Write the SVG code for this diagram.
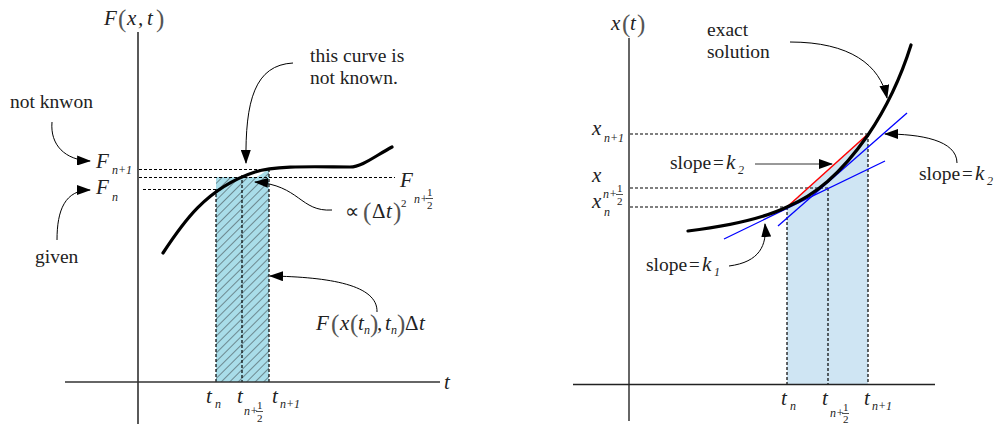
<svg xmlns="http://www.w3.org/2000/svg" width="1000" height="424" viewBox="0 0 1000 424">
<style>
svg g text{font-family:'Liberation Serif','Times New Roman',serif !important;fill:#222}
.lbl{font-size:19.5px}
.m{font-size:21px;font-style:italic}
.s{font-size:12px;font-style:italic}
.f{font-size:11px}
.p{font-size:25px;fill:#555}
.axis{stroke:#000;stroke-width:1.3;fill:none}
.gaxis{stroke:#666;stroke-width:2;fill:none}
.dash{stroke:#000;stroke-width:1.2;stroke-dasharray:3,2;fill:none}
.curve{stroke:#000;stroke-width:3.2;fill:none;stroke-linecap:round}
.arr{stroke:#000;stroke-width:1;fill:none;marker-end:url(#ah)}
.blue{stroke:#0000ff;stroke-width:1.3;fill:none}
.red{stroke:#ff0000;stroke-width:1.5;fill:none}
.fb{stroke:#222;stroke-width:0.8}
</style>
<defs>
<marker id="ah" markerWidth="14" markerHeight="10" refX="13" refY="5" orient="auto" markerUnits="userSpaceOnUse">
<path d="M0,0 L14,5 L0,10 Z" fill="#000"/>
</marker>
<pattern id="hatch" width="6" height="6" patternUnits="userSpaceOnUse" patternTransform="rotate(45)">
<rect width="6" height="6" fill="#a9dde9"/>
<line x1="0" y1="0" x2="0" y2="6" stroke="#222" stroke-width="0.9"/>
</pattern>
</defs>

<g id="left-panel">
<g id="left-shade">
<path d="M216,177 L257,177 L269,169 L269,382 L216,382 Z" fill="url(#hatch)"/>
<line class="dash" x1="216" y1="189" x2="216" y2="382"/>
<line class="dash" x1="242" y1="175" x2="242" y2="382"/>
<line class="dash" x1="269" y1="169" x2="269" y2="382"/>
</g>
<g id="left-axes">
<line class="axis" x1="138" y1="32" x2="138" y2="424"/>
<line class="gaxis" x1="65" y1="382" x2="440" y2="382" style="stroke:#333;stroke-width:1.6"/>
<text class="m" x="444" y="389">t</text>
<text class="m" x="104" y="25">F</text>
<text class="p" x="118" y="27">(</text>
<text class="m" x="127" y="25">x</text>
<text class="m" x="138" y="25">,</text>
<text class="m" x="147" y="25">t</text>
<text class="p" x="156" y="27">)</text>
</g>
<g id="left-dashes">
<line class="dash" x1="139" y1="169.5" x2="262" y2="169.5"/>
<line class="dash" x1="139" y1="177.5" x2="395" y2="177.5"/>
<line class="dash" x1="143" y1="189.5" x2="216" y2="189.5"/>
</g>
<g id="left-curve">
<path class="curve" d="M163,253 C182,224 206,188 255,172 C276,165 320,167 350,167 C362,167 375,156 392,147"/>
</g>
<g id="label-fn1">
<text class="m" x="96" y="168">F</text>
<text class="s" x="112" y="174">n+1</text>
</g>
<g id="label-fn">
<text class="m" x="96" y="194">F</text>
<text class="s" x="112" y="201">n</text>
</g>
<g id="label-fhalf">
<text class="m" x="400" y="187">F</text>
<text class="s" x="414" y="203">n+</text>
<text class="f" x="427" y="196">1</text>
<line class="fb" x1="426" y1="198.5" x2="433" y2="198.5"/>
<text class="f" x="427" y="209">2</text>
</g>
<g id="label-notknown">
<text class="lbl" x="10" y="108">not knwon</text>
</g>
<g id="label-given">
<text class="lbl" x="35" y="263">given</text>
</g>
<g id="label-curve">
<text class="lbl" x="310" y="62">this curve is</text>
<text class="lbl" x="310" y="84">not known.</text>
</g>
<g id="label-prop">
<text x="345" y="218" style="font-size:20px">∝</text>
<text class="p" x="363" y="220">(</text>
<text x="372" y="218" style="font-size:21px">Δ</text>
<text class="m" x="386" y="218">t</text>
<text class="p" x="393" y="220">)</text>
<text class="f" x="401" y="207">2</text>
</g>
<g id="label-area">
<text class="m" x="316" y="330">F</text>
<text class="p" x="331" y="332">(</text>
<text class="m" x="340" y="330">x</text>
<text class="p" x="350" y="332">(</text>
<text class="m" x="358" y="330">t</text>
<text class="s" x="364" y="334">n</text>
<text class="p" x="370" y="332">)</text>
<text class="m" x="377" y="330">,</text>
<text class="m" x="385" y="330">t</text>
<text class="s" x="391" y="334">n</text>
<text class="p" x="397" y="332">)</text>
<text x="405" y="330" style="font-size:21px">Δ</text>
<text class="m" x="419" y="330">t</text>
</g>
<g id="left-ticks">
<text class="m" x="206" y="403">t</text>
<text class="s" x="215" y="408">n</text>
<text class="m" x="237" y="403">t</text>
<text class="s" x="244" y="415">n+</text>
<text class="f" x="257" y="409">1</text>
<line class="fb" x1="256" y1="411.5" x2="263" y2="411.5"/>
<text class="f" x="257" y="422">2</text>
<text class="m" x="272" y="403">t</text>
<text class="s" x="280" y="408">n+1</text>
</g>
</g>

<g id="right-panel">
<g id="right-shade">
<polygon points="787,207 868,134 868,384 787,384" fill="#cfe5f3"/>
<line class="dash" x1="787" y1="207" x2="787" y2="384"/>
<line class="dash" x1="828" y1="188" x2="828" y2="384"/>
<line class="dash" x1="868" y1="134" x2="868" y2="384"/>
</g>
<g id="right-axes">
<line class="gaxis" x1="629" y1="38" x2="629" y2="421"/>
<line class="axis" x1="573" y1="384.5" x2="935" y2="384.5" style="stroke:#222"/>
<text class="m" x="611" y="30">x</text>
<text class="p" x="622" y="32">(</text>
<text class="m" x="630" y="30">t</text>
<text class="p" x="637" y="32">)</text>
</g>
<g id="right-dashes">
<line class="dash" x1="630" y1="134" x2="868" y2="134"/>
<line class="dash" x1="630" y1="188" x2="828" y2="188"/>
<line class="dash" x1="630" y1="207" x2="787" y2="207"/>
</g>
<g id="right-lines">
<line class="red" x1="787" y1="207" x2="868" y2="134"/>
<line class="blue" x1="724" y1="239" x2="885" y2="161"/>
<line class="blue" x1="778" y1="226" x2="907" y2="113"/>
<path class="curve" d="M688,231 C720,227 760,220 787,207 C815,195 840,175 868,135 C885,110 900,80 911,45"/>
</g>
<g id="label-xn1">
<text class="m" x="592" y="135">x</text>
<text class="s" x="604" y="142">n+1</text>
</g>
<g id="label-xhalf">
<text class="m" x="592" y="182">x</text>
<text class="s" x="603" y="198">n+</text>
<text class="f" x="617" y="192">1</text>
<line class="fb" x1="616" y1="194.5" x2="623" y2="194.5"/>
<text class="f" x="617" y="205">2</text>
</g>
<g id="label-xn">
<text class="m" x="592" y="208">x</text>
<text class="s" x="604" y="216">n</text>
</g>
<g id="label-exact">
<text class="lbl" x="707" y="36">exact</text>
<text class="lbl" x="707" y="58">solution</text>
</g>
<g id="label-k2-left">
<text class="lbl" x="670" y="169">slope</text>
<text x="713" y="169" style="font-size:19px">=</text>
<text class="m" x="726" y="169">k</text>
<text class="s" x="738" y="174">2</text>
</g>
<g id="label-k1">
<text class="lbl" x="646" y="271">slope</text>
<text x="689" y="271" style="font-size:19px">=</text>
<text class="m" x="702" y="271">k</text>
<text class="s" x="714" y="276">1</text>
</g>
<g id="label-k2-right">
<text class="lbl" x="919" y="180">slope</text>
<text x="962" y="180" style="font-size:19px">=</text>
<text class="m" x="975" y="180">k</text>
<text class="s" x="987" y="185">2</text>
</g>
<g id="right-ticks">
<text class="m" x="781" y="405">t</text>
<text class="s" x="790" y="410">n</text>
<text class="m" x="822" y="405">t</text>
<text class="s" x="830" y="417">n+</text>
<text class="f" x="843" y="411">1</text>
<line class="fb" x1="842" y1="413.5" x2="849" y2="413.5"/>
<text class="f" x="843" y="423">2</text>
<text class="m" x="864" y="405">t</text>
<text class="s" x="872" y="410">n+1</text>
</g>
</g>

<g id="connectors">
<path class="arr" d="M52,122 C50,145 65,160 90,161"/>
<path class="arr" d="M57,240 C57,210 65,190 90,190"/>
<path class="arr" d="M293,63 C255,65 245,100 246,163"/>
<path class="arr" d="M332,210 C300,212 300,185 255,182"/>
<path class="arr" d="M377,312 C378,285 330,277 270,276"/>
<path class="arr" d="M790,42 C850,42 880,65 887,98"/>
<path class="arr" d="M755,164 L832,164" style="stroke:#333"/>
<path class="arr" d="M729,266 C760,262 767,245 765,224"/>
<path class="arr" d="M957,163 C957,140 920,134 885,134"/>
</g>
</svg>
